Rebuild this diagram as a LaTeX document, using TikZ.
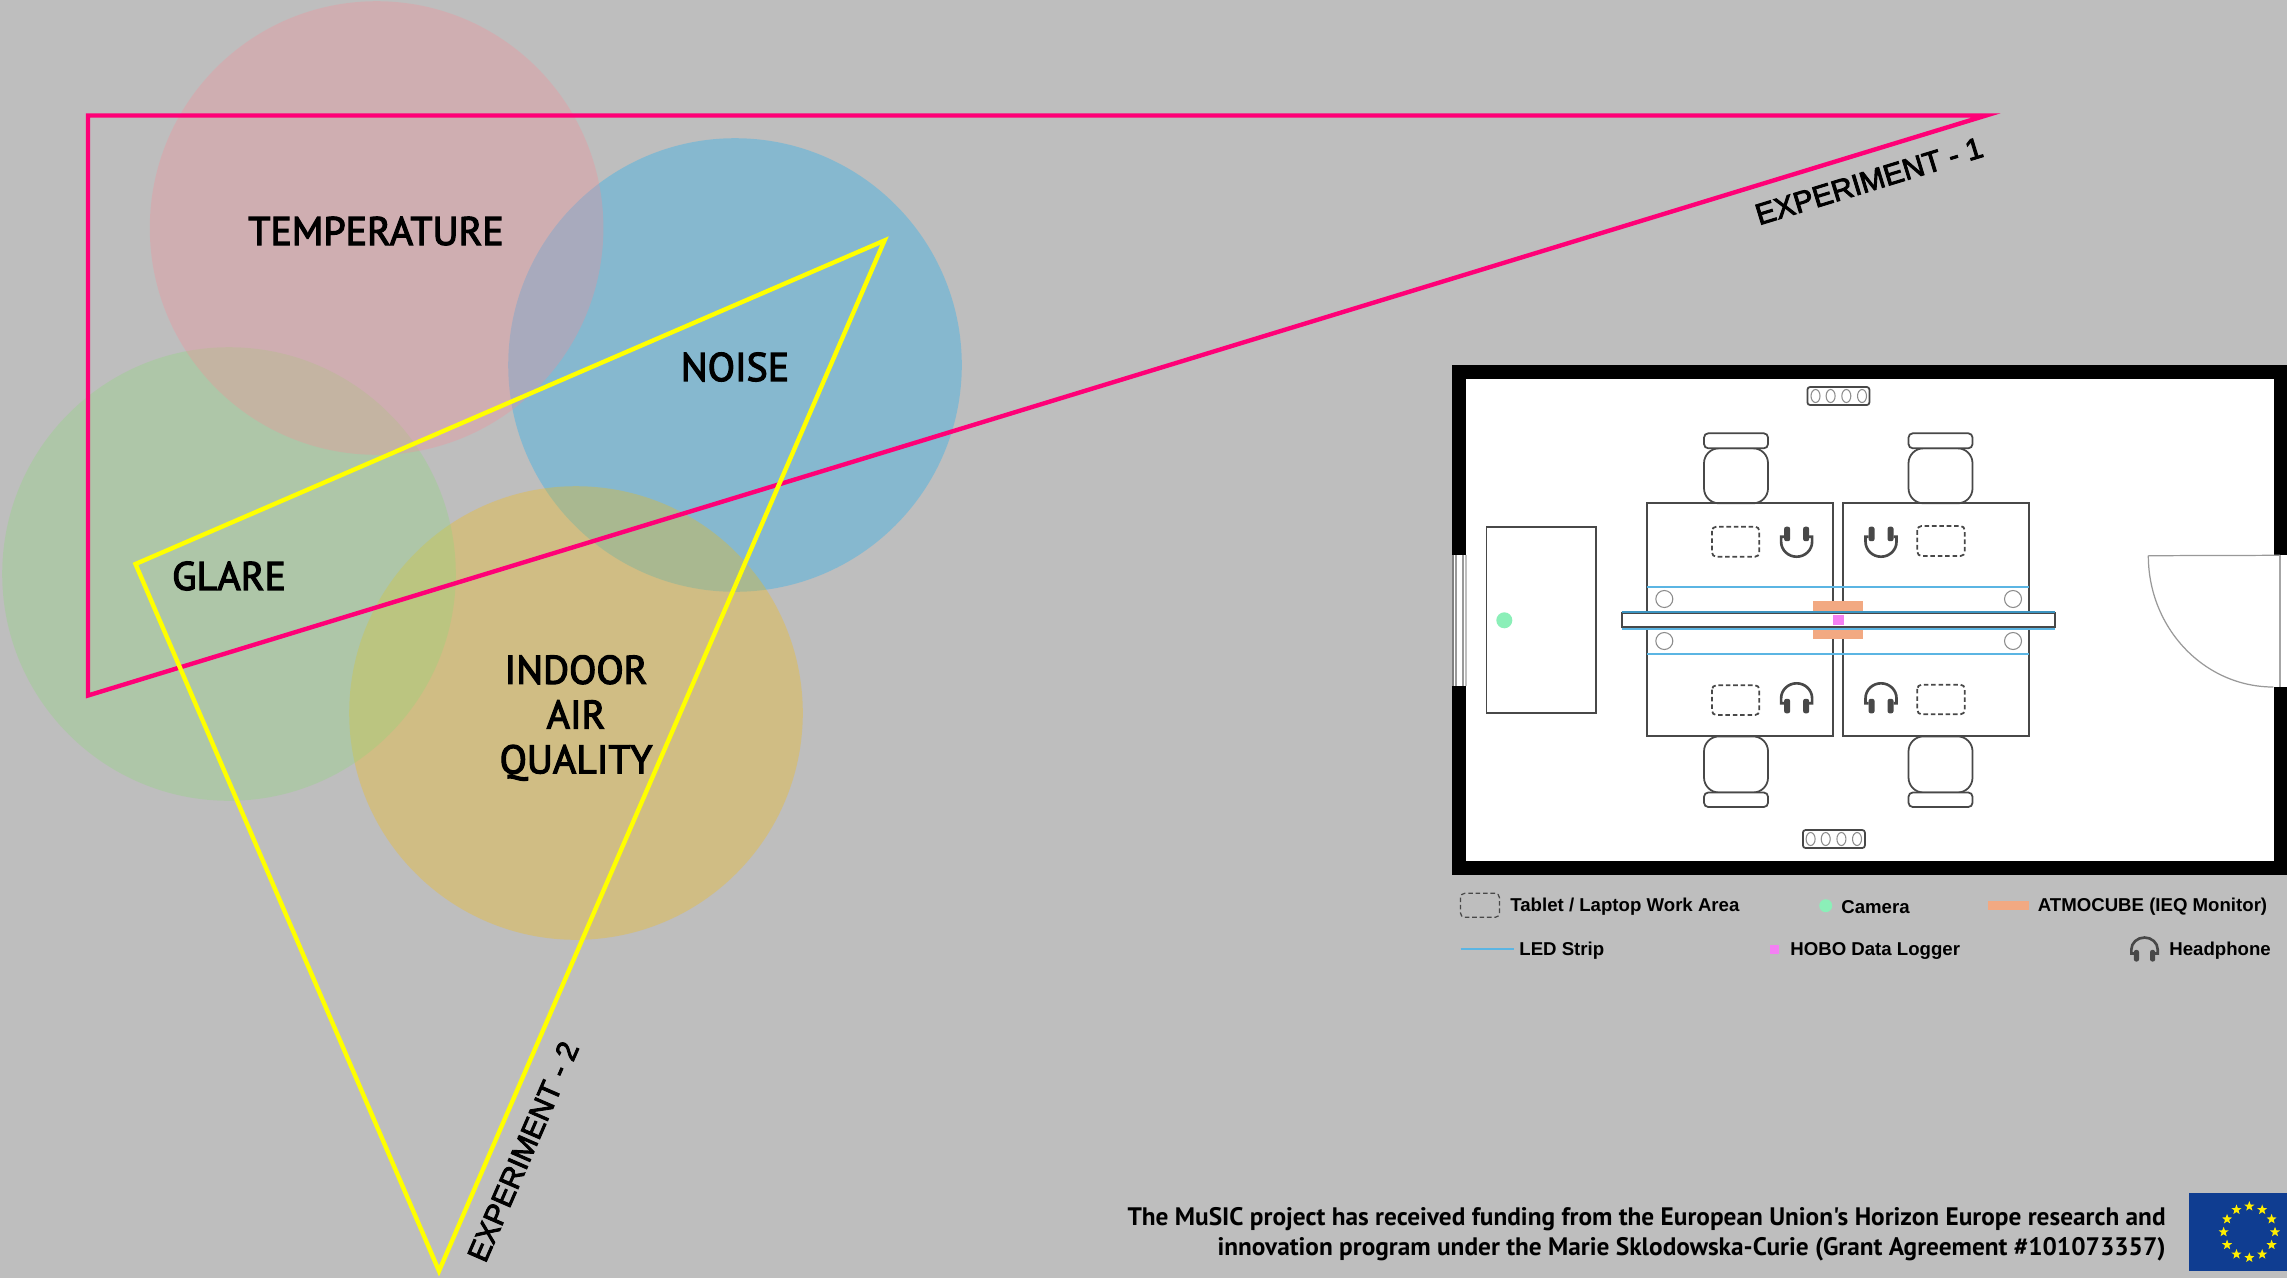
\documentclass[tikz,border=0pt]{standalone}
\usepackage{fontspec}
\setmainfont{Liberation Sans}
\newfontfamily\din[FakeBold=3]{PT Sans}
\newfontfamily\dinfoot{PT Sans}
\newfontfamily\expfont[FakeBold=3]{Liberation Sans}
\usetikzlibrary{shapes.geometric}
\definecolor{bgc}{HTML}{BEBEBE}
\definecolor{ctemp}{HTML}{F78C96}
\definecolor{cnoise}{HTML}{07ADF7}
\definecolor{cglare}{HTML}{8CD978}
\definecolor{ciaq}{HTML}{FABB00}
\definecolor{cmag}{HTML}{FF0077}
\definecolor{cyel}{HTML}{FFFF00}
\definecolor{cled}{HTML}{5BB5E3}
\definecolor{cledd}{HTML}{3C94C0}
\definecolor{corange}{HTML}{F2A982}
\definecolor{cpink}{HTML}{F47FF3}
\definecolor{cgreen}{HTML}{8BEFB8}
\definecolor{cdark}{HTML}{484848}
\definecolor{cflag}{HTML}{0F3D91}
\definecolor{cstar}{HTML}{FFEE00}
\newcommand{\hpicon}[4]{%
  \begin{scope}[shift={(#1,#2)},xscale=#3,yscale=#4]
    \draw[hpband] (-12.5,5) -- (-15.5,5) -- (-15.5,0) arc[start angle=180,end angle=360,x radius=15.5,y radius=15] -- (15.5,5) -- (12.5,5);
    \fill[cdark,rounded corners=1.2pt] (-12.5,0.5) rectangle (-6.5,15);
    \fill[cdark,rounded corners=1.2pt] (6.5,0.5) rectangle (12.5,15);
  \end{scope}}
\tikzset{
  x=0.02cm,y=-0.02cm,
  zone/.style={fill opacity=0.3},
  zonelabel/.style={font=\din\fontsize{22.7pt}{25.5pt}\selectfont,align=center,inner sep=0,text=black},
  expline/.style={line width=2.5pt,line join=miter},
  explabel/.style={font=\expfont\fontsize{16.9pt}{20pt}\selectfont,inner sep=0,text=black},
  wallline/.style={draw=cdark,line width=1pt,fill=white},
  hpband/.style={draw=cdark,line width=1.5pt},
  dashedarea/.style={draw=cdark,line width=1pt,dashed,dash pattern=on 2.6pt off 1.6pt,rounded corners=2.4pt},
  ledline/.style={draw=cled,line width=1.2pt},
  smallcirc/.style={draw=gray!90,line width=0.6pt,fill=white},
  legendtext/.style={font=\bfseries\fontsize{10.6pt}{12pt}\selectfont,inner sep=0,anchor=west,text=black},
  foottext/.style={font=\dinfoot\bfseries\fontsize{14.4pt}{16.8pt}\selectfont,inner sep=0,align=right,text=black},
  winline/.style={draw=gray!80,line width=0.7pt},
}
\newcommand{\chairtop}[1]{%
  \draw[wallline,rounded corners=8.5pt] (#1-32,448.3) rectangle (#1+32,503.3);
  \draw[wallline,rounded corners=2.4pt] (#1-32,433.3) rectangle (#1+32,448.3);}
\newcommand{\chairbot}[1]{%
  \draw[wallline,rounded corners=8.5pt] (#1-32,736.4) rectangle (#1+32,792.5);
  \draw[wallline,rounded corners=2.4pt] (#1-32,792.5) rectangle (#1+32,807);}
\newcommand{\plugbox}[6]{%
  \draw[wallline,rounded corners=1.5pt] (#1,#2) rectangle +(62,18);
  \foreach \cx in {#3,#4,#5,#6} \draw[smallcirc] (\cx,#2+9) circle[x radius=4.5,y radius=6.5];}
\begin{document}
\begin{tikzpicture}
\useasboundingbox (0,0) rectangle (2287,1278);
\fill[bgc] (0,0) rectangle (2287,1278);
% zones
\fill[cnoise,zone] (735,365) circle (226.8);
\fill[ciaq,zone] (576,713) circle (226.8);
\fill[cglare,zone] (229,574) circle (226.8);
\fill[ctemp,zone] (376.6,228) circle (226.8);
% experiment outlines
\coordinate (m1) at (88,115.5); \coordinate (m2) at (1986,115.5); \coordinate (m3) at (88,695.5);
\draw[expline,cmag] (m1) -- (m2) -- (m3) -- cycle;
\coordinate (y1) at (884.5,240.5); \coordinate (y2) at (135.5,564); \coordinate (y3) at (439,1271);
\draw[expline,cyel] (y1) -- (y2) -- (y3) -- cycle;
% labels
\node[zonelabel] (ltemp) at (376,231) {TEMPERATURE};
\node[zonelabel] (lnoise) at (735,367) {NOISE};
\node[zonelabel] (lglare) at (229,576) {GLARE};
\node[zonelabel] (liaq) at (576,718) {INDOOR\\AIR\\QUALITY};
\node[explabel,rotate=17] (le1) at (1869,181) {EXPERIMENT - 1};
\node[explabel,rotate=66.5] (le2) at (523,1151.5) {EXPERIMENT - 2};
% room
\fill[black] (1452.4,364.8) rectangle (2287,874.8);
\fill[white] (1466,378.6) rectangle (2273.6,861.4);
% window
\fill[white] (1452.7,555) rectangle (1466.5,685.7);
\draw[winline,draw=gray] (1452.9,555) -- (1452.9,685.7);
\draw[winline] (1456,555) -- (1456,685.7);
\draw[winline] (1463,555) -- (1463,685.7);
\draw[winline,draw=gray!50] (1466,555) -- (1466,685.7);
% door
\fill[white] (2273.3,555) rectangle (2287,687);
\draw[winline] (2148.3,555.7) -- (2280,555.3);
\draw[winline] (2148.3,555.7) arc[start angle=180,end angle=90,x radius=125,y radius=131.3];
\draw[winline,line width=0.9pt,draw=gray!70] (2280,555.3) -- (2280,687);
% plug boxes
\plugbox{1807.4}{387}{1815.5}{1830.6}{1846.3}{1862}
\plugbox{1802.9}{830}{1810.6}{1825.7}{1841.4}{1857}
% side table and camera
\draw[wallline] (1486.5,526.7) rectangle (1596,713.3);
\fill[cgreen] (1504.3,620.3) circle (8);
% chairs
\chairtop{1736}
\chairtop{1940.5}
\chairbot{1736}
\chairbot{1940.5}
% desks
\draw[wallline,fill=none] (1646.7,503.3) rectangle (1833.3,736);
\draw[wallline,fill=none] (1842.7,503.3) rectangle (2029,736);
\foreach \a/\b/\c/\d in {1712/526.7/1759.3/556.7,1712/685.3/1759.3/715,1917.3/526/1964.7/556,1917.3/684.7/1964.7/714.3}
  \draw[dashedarea] (\a,\b) rectangle (\c,\d);
\hpicon{1796.6}{541.7}{1}{-1}
\hpicon{1881}{541.7}{1}{-1}
\hpicon{1796.6}{698.3}{1}{1}
\hpicon{1881}{698.3}{1}{1}
% LED lines
\draw[ledline] (1647,586.7) -- (2029,586.7);
\draw[ledline] (1647,653.7) -- (2029,653.7);
\foreach \cx/\cy in {1664.3/599,1664.3/641,2013/599,2013/641}
  \draw[smallcirc] (\cx,\cy) circle (8.5);
% orange monitors
\fill[corange] (1813.3,601) rectangle (1863.3,612.7);
\fill[corange] (1813.3,628.3) rectangle (1863.3,639.3);
% central strip
\draw[ledline] (1621.7,629) -- (2054.8,629);
\draw[wallline] (1621.7,612.7) rectangle (2054.8,627.3);
\draw[ledline,draw=cledd] (1621.7,612.4) -- (2054.8,612.4);
\fill[cpink] (1832.7,615) rectangle (1844,625.3);
% legend
\draw[dashedarea,line width=0.7pt] (1460.5,893.3) rectangle (1499.4,917.3);
\node[legendtext] (lg1) at (1510,907) {Tablet / Laptop Work Area};
\fill[cgreen] (1825.7,905.7) circle (6.5);
\node[legendtext] (lg2) at (1841,907) {Camera};
\fill[corange] (1988.4,900.7) rectangle (2029,910.3);
\node[legendtext] (lg3) at (2037.5,907) {ATMOCUBE (IEQ Monitor)};
\draw[ledline] (1460.5,948.7) -- (1514,948.7);
\node[legendtext] (lg4) at (1519,950.7) {LED Strip};
\fill[cpink] (1770,945) rectangle (1779.3,954);
\node[legendtext] (lg5) at (1790,950.7) {HOBO Data Logger};
\hpicon{2144.5}{949.5}{0.85}{0.8}
\node[legendtext] (lg6) at (2169,950.7) {Headphone};
% funding
\node[foottext,anchor=east] (fund) at (2166,1234) {The MuSIC project has received funding from the European Union's Horizon Europe research and\\innovation program under the Marie Sklodowska-Curie (Grant Agreement \#101073357)};
\fill[cflag] (2189,1193) rectangle (2287,1270.7);
\foreach \i in {1,...,12}
  \node[star,star points=5,star point ratio=2.4,fill=cstar,inner sep=0,minimum size=6pt] (s\i) at ({2249.3+25.7*cos(30*\i)},{1232+25.7*sin(30*\i)}) {};
\end{tikzpicture}
\end{document}
